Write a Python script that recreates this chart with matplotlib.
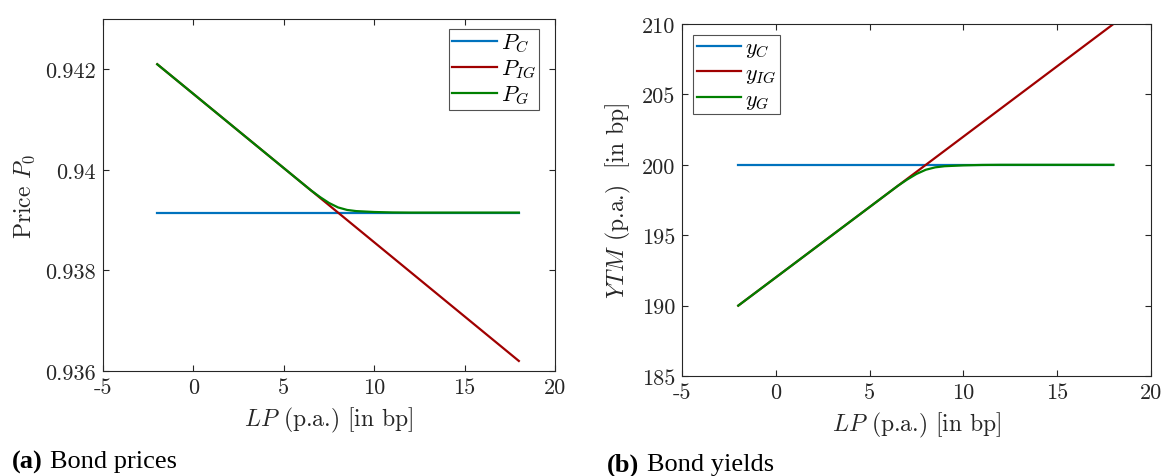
import matplotlib
matplotlib.use("Agg")
import matplotlib.pyplot as plt

plt.rcParams['font.family'] = 'cmr10'
plt.rcParams['mathtext.fontset'] = 'cm'
plt.rcParams['axes.unicode_minus'] = False
plt.rcParams['axes.formatter.use_mathtext'] = True

# ---- data ----
lp = [-2, -1, 0, 1, 2, 3, 4, 5, 6, 7, 8, 9, 10, 11, 12, 13, 14, 15, 16, 17, 18]
P_C = [0.93915] * len(lp)
P_IG = [0.94210, 0.941805, 0.94151, 0.941215, 0.94092, 0.940625, 0.94033,
        0.940035, 0.93974, 0.939445, 0.93915, 0.938855, 0.93856, 0.938265,
        0.93797, 0.937675, 0.93738, 0.937085, 0.93679, 0.936495, 0.93620]
y_C = [200.0] * len(lp)
y_IG = [190, 191, 192, 193, 194, 195, 196, 197, 198, 199, 200, 201, 202,
        203, 204, 205, 206, 207, 208, 209, 210]

lp_g = [-2, -1, 0, 1, 2, 3, 4, 5, 6, 6.5, 7, 7.5, 8, 8.5, 9, 9.5, 10,
        11, 12, 13, 14, 15, 16, 17, 18]
P_G = [0.94210, 0.941805, 0.94151, 0.941215, 0.94092, 0.940625, 0.94033,
       0.940035, 0.93974, 0.939593, 0.93946, 0.939342, 0.939253, 0.939203,
       0.93918, 0.939171, 0.939162, 0.939153, 0.93915, 0.93915, 0.93915,
       0.93915, 0.93915, 0.93915, 0.93915]
y_G = [190, 191, 192, 193, 194, 195, 196, 197, 198, 198.5, 198.95, 199.35,
       199.65, 199.82, 199.9, 199.93, 199.96, 199.99, 200, 200, 200, 200,
       200, 200, 200]

xticks = [-5, 0, 5, 10, 15, 20]
xticklabels = ['-5', '0', '5', '10', '15', '20']
yticks_p = [0.936, 0.938, 0.940, 0.942]
yticklabels_p = ['0.936', '0.938', '0.94', '0.942']
yticks_y = [185, 190, 195, 200, 205, 210]
yticklabels_y = ['185', '190', '195', '200', '205', '210']

c_blue = '#0072BD'
c_red = '#A00000'
c_green = '#008000'
frame = '#262626'

fig = plt.figure(figsize=(11.64, 4.77), dpi=100)
ax1 = fig.add_axes([0.0885, 0.2201, 0.3883, 0.738])
ax2 = fig.add_axes([0.5859, 0.2096, 0.4029, 0.738])


def style(ax):
    for s in ax.spines.values():
        s.set_color(frame)
        s.set_linewidth(0.8)
    ax.tick_params(direction='in', top=True, right=True, length=4,
                   width=0.8, color=frame, labelsize=16, labelcolor=frame,
                   pad=5)
    ax.set_xlim(-5, 20)
    ax.set_xticks(xticks)
    ax.set_xticklabels(xticklabels)


leg_kw = dict(fontsize=16, frameon=True, fancybox=False, edgecolor=frame,
              handlelength=2.0, borderpad=0.15, labelspacing=0.18,
              handletextpad=0.2, borderaxespad=0.0)

ax1.plot(lp, P_C, color=c_blue, lw=1.6, label=r'$P_C$')
ax1.plot(lp, P_IG, color=c_red, lw=1.6, label=r'$P_{IG}$')
ax1.plot(lp_g, P_G, color=c_green, lw=1.6, label=r'$P_G$')
style(ax1)
ax1.set_ylim(0.936, 0.943)
ax1.set_yticks(yticks_p)
ax1.set_yticklabels(yticklabels_p)
ax1.set_xlabel(r'$LP$ (p.a.) [in bp]', fontsize=17, color=frame, labelpad=5)
ax1.set_ylabel(r'Price $P_0$', fontsize=17, color=frame, labelpad=6)
leg1 = ax1.legend(loc='upper right', bbox_to_anchor=(0.965, 0.972), **leg_kw)
leg1.get_frame().set_linewidth(0.8)

ax2.plot(lp, y_C, color=c_blue, lw=1.6, label=r'$y_C$')
ax2.plot(lp, y_IG, color=c_red, lw=1.6, label=r'$y_{IG}$')
ax2.plot(lp_g, y_G, color=c_green, lw=1.6, label=r'$y_G$')
style(ax2)
ax2.set_ylim(185, 210)
ax2.set_yticks(yticks_y)
ax2.set_yticklabels(yticklabels_y)
ax2.set_xlabel(r'$LP$ (p.a.) [in bp]', fontsize=17, color=frame, labelpad=5)
ax2.set_ylabel(r'$YTM$ (p.a.)  [in bp]', fontsize=17, color=frame, labelpad=6)
leg2 = ax2.legend(loc='upper left', bbox_to_anchor=(0.024, 0.97), **leg_kw)
leg2.get_frame().set_linewidth(0.8)

cap_font = ['Liberation Serif', 'DejaVu Serif']
fig.text(12 / 1164, 1 - 462 / 477, '(a)', fontsize=19, fontweight='bold',
         family=cap_font, va='center', ha='left')
fig.text(50 / 1164, 1 - 462 / 477, 'Bond prices', fontsize=19,
         family=cap_font, va='center', ha='left')
fig.text(607 / 1164, 1 - 465 / 477, '(b)', fontsize=19, fontweight='bold',
         family=cap_font, va='center', ha='left')
fig.text(647 / 1164, 1 - 465 / 477, 'Bond yields', fontsize=19,
         family=cap_font, va='center', ha='left')

fig.savefig('out.png', dpi=100)
